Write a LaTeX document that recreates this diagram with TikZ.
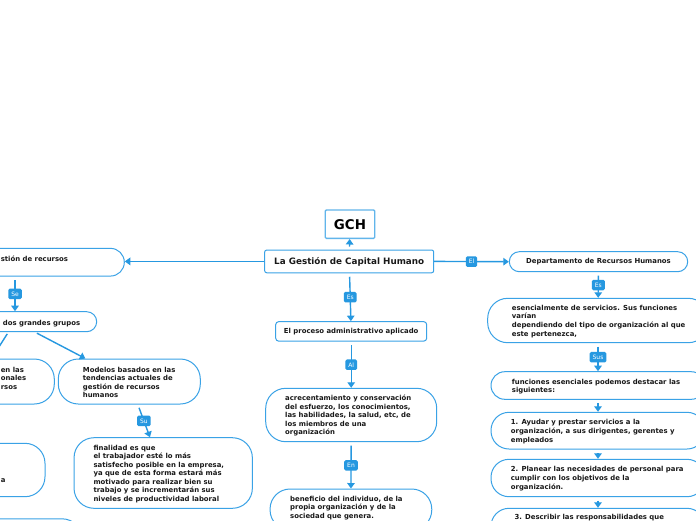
\documentclass[tikz,border=0pt]{standalone}
\usepackage{fontspec}
\setmainfont{DejaVu Sans}
\usetikzlibrary{arrows.meta}
\definecolor{bl}{RGB}{38,152,224}
\definecolor{bd}{RGB}{58,162,230}
\definecolor{ink}{RGB}{25,25,25}
\begin{document}
\begin{tikzpicture}[x=1pt,y=-1pt,
  box/.style={draw=bd, line width=1pt, fill=white, inner sep=0pt, rounded corners=#1},
  txt/.style={font=\fontsize{6.9}{8.5}\selectfont\bfseries, align=left, inner sep=0pt, anchor=base west, text=ink},
  txtw/.style={txt, font=\fontsize{6.9}{8.8}\selectfont\bfseries},
  con/.style={draw=bl, line width=1.4pt, -{Triangle[length=5.5pt,width=7.5pt]}},
  vgap/.style={shorten <=3.5pt},
  lbl/.style={fill=bl, text=white, font=\fontsize{6}{7}\selectfont, inner xsep=3pt, inner ysep=0pt, minimum height=10.5pt, rounded corners=1.5pt}
]
\path[use as bounding box, fill=white] (0,0) rectangle (696,520);
\clip (0,0) rectangle (696,520);

% centre column
\node[box=1pt, draw=bd!80, line width=1.3pt, minimum width=49.4pt, minimum height=28.3pt,
      font=\fontsize{13.4}{15}\selectfont\bfseries] (gch) at (350,224.2) {GCH};
\node[box=2pt, minimum width=169pt, minimum height=22.7pt,
      font=\fontsize{8.8}{10}\selectfont\bfseries, text=ink] (main) at (349.2,261.4) {La Gestión de Capital Humano};
\node[box=3pt, minimum width=151pt, minimum height=19.5pt,
      font=\fontsize{6.9}{8}\selectfont\bfseries, text=ink] (proc) at (351.2,331.4) {El proceso administrativo aplicado};
\node[box=20pt, minimum width=171pt, minimum height=53.4pt] (acre) at (351.2,415) {};
\node[box=20pt, minimum width=161.7pt, minimum height=41pt] (benef) at (350.9,509.5) {};

% left side
\node[box=13.8pt, minimum width=218.6pt, minimum height=27.7pt] (gest) at (15,262.2) {};
\node[box=10pt, minimum width=163.4pt, minimum height=20pt] (grupos) at (15,321.7) {};
\node[box=20pt, minimum width=154.6pt, minimum height=45pt] (enlas) at (-23,381.5) {};
\node[box=20pt, minimum width=142pt, minimum height=45pt] (modelos) at (129.3,381.5) {};
\node[box=20pt, minimum width=178.3pt, minimum height=70.6pt] (final) at (163.2,473) {};
\node[box=20pt, minimum width=150pt, minimum height=53.4pt] (anode) at (-30,470) {};
\node[box=20pt, minimum width=200pt, minimum height=40pt] (lower) at (-18,538.8) {};

% right side
\node[box=10pt, minimum width=178.4pt, minimum height=20pt,
      font=\fontsize{6.9}{8}\selectfont\bfseries, text=ink] (dep) at (598.5,261.7) {Departamento de Recursos Humanos};
\node[box=20pt, minimum width=220.6pt, minimum height=44.4pt] (esen) at (598,320.5) {};
\node[box=13.8pt, minimum width=214pt, minimum height=27.6pt] (func) at (598,385.5) {};
\node[box=18pt, minimum width=214pt, minimum height=36.7pt] (it1) at (598,430.65) {};
\node[box=18pt, minimum width=214pt, minimum height=37.4pt] (it2) at (598,478) {};
\node[box=18pt, minimum width=214pt, minimum height=37.4pt] (it3) at (598,527) {};

% connectors
\draw[con, shorten <=3pt] (main) -- (gch);
\draw[con] (main.west) -- (main.west -| gest.east);
\draw[con] (main.east) -- node[lbl]{El} (dep.west);
\draw[con, vgap] (main) -- node[lbl]{Es} (proc);
\draw[con, vgap] (proc) -- node[lbl]{Al} (acre);
\draw[con, vgap] (acre) -- node[lbl]{En} (benef);
\draw[con, vgap] (gest) -- node[lbl]{Se} (grupos);
\draw[con, shorten <=2pt] (grupos) -- (enlas);
\draw[con, shorten <=2pt] (grupos) -- (modelos);
\draw[con, vgap] (modelos) -- node[lbl]{Su} (final);
\draw[con, vgap] (dep) -- node[lbl]{Es} (esen);
\draw[con, vgap] (esen) -- node[lbl]{Sus} (func);
\draw[con, vgap] (func) -- (it1);
\draw[con, vgap] (it1) -- (it2);
\draw[con, vgap] (it2) -- (it3);

% texts (anchor = baseline of the last line)
\node[txt] (acre-t) at (285,434.7) {acrecentamiento y conservación\\del esfuerzo, los conocimientos,\\las habilidades, la salud, etc, de\\los miembros de una\\organización};
\node[txt] (benef-t) at (290,518.1) {beneficio del individuo, de la\\propia organización y de la\\sociedad que genera.};
\node[txt] (gest-t) at (0.6,261.1) {stión de recursos};
\node[txt] (grupos-t) at (2.7,325.1) {dos grandes grupos};
\node[txt] (enlas-t) at (0.6,389.2) {en las\\onales\\rsos};
\node[txt] (modelos-t) at (82.7,397.7) {Modelos basados en las\\tendencias actuales de\\gestión de recursos\\humanos};
\node[txt] (final-t) at (93.3,501.1) {finalidad es que\\el trabajador esté lo más\\satisfecho posible en la empresa,\\ya que de esta forma estará más\\motivado para realizar bien su\\trabajo y se incrementarán sus\\niveles de productividad laboral};
\node[txt] (anode-t) at (0.6,482.4) {a};
\node[txtw] (esen-t) at (511.7,336.5) {esencialmente de servicios. Sus funciones\\varían\\dependiendo del tipo de organización al que\\este pertenezca,};
\node[txtw] (func-t) at (511.7,392.9) {funciones esenciales podemos destacar las\\siguientes:};
\node[txtw] (it1-t) at (510.7,442.3) {1. Ayudar y prestar servicios a la\\organización, a sus dirigentes, gerentes y\\empleados};
\node[txtw] (it2-t) at (510.7,489.3) {2. Planear las necesidades de personal para\\cumplir con los objetivos de la\\organización.};
\node[txtw] (it3-t) at (514.3,519.2) {3. Describir las responsabilidades que};
\end{tikzpicture}
\end{document}
